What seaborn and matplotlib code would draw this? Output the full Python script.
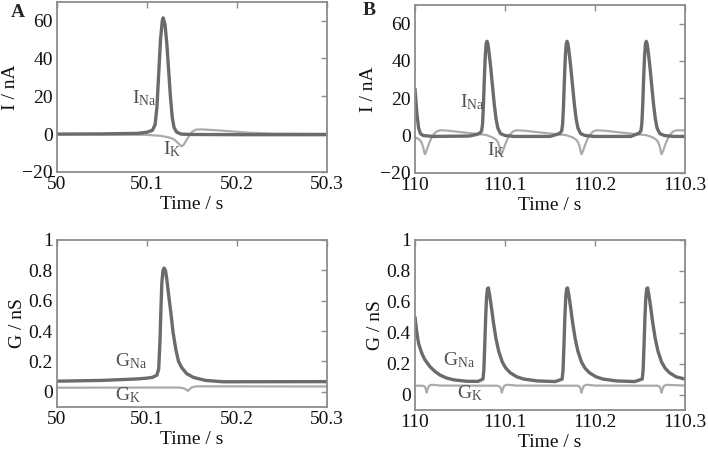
"""
Na/K currents and conductances during spiking -- panels A (single spike) and B (repetitive firing)
"""
import matplotlib
matplotlib.use("Agg")
import matplotlib.pyplot as plt
import seaborn as sns

# -- Data ----------------------------------------------------------------------
# Panel A, currents (nA)
A_T_INA = [50.000, 50.050, 50.090, 50.100, 50.106, 50.109, 50.111, 50.113, 50.115,
           50.117, 50.118, 50.120, 50.122, 50.124, 50.126, 50.128, 50.130, 50.133,
           50.138, 50.150, 50.200, 50.300]
A_INA = [0.0, 0.1, 0.4, 1.0, 2.0, 5.0, 14.0, 32.0, 50.0,
         60.0, 61.5, 58.0, 48.0, 34.0, 20.0, 9.0, 3.5, 1.0,
         0.0, -0.2, -0.3, -0.3]
A_T_IK = [50.000, 50.100, 50.115, 50.125, 50.130, 50.134, 50.137, 50.1385, 50.141,
          50.144, 50.147, 50.150, 50.154, 50.160, 50.175, 50.195, 50.215, 50.240, 50.300]
A_IK = [0.0, -0.4, -0.9, -1.8, -2.8, -4.5, -6.0, -6.5, -5.5,
        -3.0, -0.8, 1.2, 2.3, 2.5, 2.1, 1.4, 0.7, 0.3, 0.2]

# Panel A, conductances (nS)
A_T_GNA = [50.000, 50.050, 50.090, 50.100, 50.106, 50.111, 50.113, 50.1145, 50.1155,
           50.1165, 50.1178, 50.119, 50.1205, 50.122, 50.124, 50.1265, 50.129, 50.132,
           50.135, 50.1385, 50.144, 50.1515, 50.165, 50.185, 50.300]
A_GNA = [0.070, 0.075, 0.085, 0.090, 0.095, 0.11, 0.15, 0.35, 0.55,
         0.72, 0.80, 0.815, 0.80, 0.74, 0.64, 0.52, 0.39, 0.28,
         0.20, 0.16, 0.12, 0.095, 0.075, 0.066, 0.067]
A_T_GK = [50.000, 50.100, 50.135, 50.141, 50.144, 50.1455, 50.147, 50.150, 50.155, 50.300]
A_GK = [0.027, 0.028, 0.028, 0.023, 0.013, 0.006, 0.015, 0.030, 0.036, 0.035]

# Panel B, currents (nA)
B_T_INA = [110.000, 110.002, 110.004, 110.006, 110.009, 110.020, 110.060,
           110.068, 110.072, 110.074, 110.075, 110.076, 110.077, 110.078, 110.079,
           110.080, 110.081, 110.082, 110.084, 110.086, 110.088, 110.090, 110.092,
           110.095, 110.100, 110.110, 110.150,
           110.157, 110.161, 110.163, 110.164, 110.165, 110.166, 110.167, 110.168,
           110.169, 110.170, 110.171, 110.173, 110.175, 110.177, 110.179, 110.181,
           110.184, 110.189, 110.199, 110.240,
           110.245, 110.249, 110.251, 110.252, 110.253, 110.254, 110.255, 110.256,
           110.257, 110.258, 110.259, 110.261, 110.263, 110.265, 110.267, 110.269,
           110.272, 110.277, 110.287, 110.300]
B_INA = [25.0, 12.0, 4.0, 1.0, 0.0, -0.5, -0.3,
         0.5, 1.2, 2.5, 6.0, 16.0, 30.0, 42.0, 49.0,
         50.5, 49.0, 45.5, 37.0, 27.0, 17.0, 9.0, 4.0,
         1.0, 0.0, -0.5, -0.5,
         0.5, 1.2, 2.5, 6.0, 16.0, 30.0, 42.0, 49.0,
         50.5, 49.0, 45.5, 37.0, 27.0, 17.0, 9.0, 4.0,
         1.0, 0.0, -0.5, -0.5,
         0.5, 1.2, 2.5, 6.0, 16.0, 30.0, 42.0, 49.0,
         50.5, 49.0, 45.5, 37.0, 27.0, 17.0, 9.0, 4.0,
         1.0, 0.0, -0.5, -0.5]
B_T_IK = [110.000, 110.005, 110.007, 110.009, 110.010, 110.011, 110.0125, 110.015,
          110.018, 110.021, 110.024, 110.028, 110.036, 110.051, 110.066,
          110.079, 110.086, 110.090, 110.092, 110.094, 110.095, 110.096, 110.0975,
          110.100, 110.103, 110.106, 110.109, 110.113, 110.121, 110.136, 110.151,
          110.168, 110.175, 110.179, 110.181, 110.183, 110.184, 110.185, 110.1865,
          110.189, 110.192, 110.195, 110.198, 110.202, 110.210, 110.225, 110.240,
          110.257, 110.264, 110.268, 110.270, 110.272, 110.273, 110.274, 110.2755,
          110.278, 110.281, 110.284, 110.287, 110.291, 110.300]
B_IK = [-0.9, -2.2, -3.5, -6.0, -8.5, -10.0, -8.5, -5.0,
        -1.5, 0.8, 2.2, 2.8, 2.6, 1.8, 1.0,
        0.3, -1.0, -2.2, -3.5, -6.0, -8.5, -10.0, -8.5,
        -5.0, -1.5, 0.8, 2.2, 2.8, 2.6, 1.8, 1.0,
        0.2, -1.0, -2.2, -3.5, -6.0, -8.5, -10.0, -8.5,
        -5.0, -1.5, 0.8, 2.2, 2.8, 2.6, 1.8, 1.0,
        0.2, -1.0, -2.2, -3.5, -6.0, -8.5, -10.0, -8.5,
        -5.0, -1.5, 0.8, 2.2, 2.8, 2.7]

# Panel B, conductances (nS)
B_T_GNA = [110.000, 110.002, 110.004, 110.0056, 110.008, 110.011, 110.0167, 110.022,
           110.028, 110.035, 110.043, 110.057, 110.070,
           110.0755, 110.0765, 110.0775, 110.0785, 110.0795, 110.0805, 110.0815,
           110.083, 110.085, 110.087, 110.090, 110.093, 110.097, 110.101, 110.106,
           110.113, 110.121, 110.136, 110.156,
           110.1635, 110.1645, 110.1655, 110.1665, 110.1675, 110.1685, 110.1695,
           110.171, 110.173, 110.175, 110.178, 110.181, 110.185, 110.189, 110.194,
           110.201, 110.209, 110.224, 110.244,
           110.2525, 110.2535, 110.2545, 110.2555, 110.2565, 110.2575, 110.2585,
           110.260, 110.262, 110.264, 110.267, 110.270, 110.274, 110.278, 110.283,
           110.290, 110.300]
B_GNA = [0.50, 0.40, 0.33, 0.30, 0.26, 0.225, 0.18, 0.15,
         0.125, 0.107, 0.095, 0.086, 0.085,
         0.10, 0.16, 0.32, 0.50, 0.63, 0.685, 0.69,
         0.64, 0.56, 0.47, 0.36, 0.28, 0.21, 0.17, 0.14,
         0.115, 0.10, 0.088, 0.084,
         0.10, 0.16, 0.32, 0.50, 0.63, 0.685, 0.69,
         0.64, 0.56, 0.47, 0.36, 0.28, 0.21, 0.17, 0.14,
         0.115, 0.10, 0.088, 0.084,
         0.10, 0.16, 0.32, 0.50, 0.63, 0.685, 0.69,
         0.64, 0.56, 0.47, 0.36, 0.28, 0.21, 0.17, 0.14,
         0.115, 0.10]
B_T_GK = [110.000, 110.009, 110.011, 110.012, 110.013, 110.014, 110.0155, 110.018, 110.022,
          110.028, 110.092, 110.0945, 110.0955, 110.0965, 110.0975, 110.099, 110.1015,
          110.1055, 110.112, 110.181, 110.183, 110.184, 110.185, 110.186, 110.1875,
          110.190, 110.194, 110.200, 110.270, 110.272, 110.273, 110.274, 110.275,
          110.2765, 110.279, 110.283, 110.300]
B_GK = [0.057, 0.057, 0.050, 0.035, 0.012, 0.035, 0.055, 0.063, 0.062,
        0.058, 0.057, 0.050, 0.035, 0.012, 0.035, 0.055, 0.063,
        0.062, 0.058, 0.057, 0.050, 0.035, 0.012, 0.035, 0.055,
        0.063, 0.062, 0.058, 0.057, 0.050, 0.035, 0.012, 0.035,
        0.055, 0.063, 0.062, 0.058]

# Axes ticks / labels
I_YTICKS = [-20, 0, 20, 40, 60]
I_YTICKLABELS = ["\u221220", "0", "20", "40", "60"]
G_YTICKS = [0, 0.2, 0.4, 0.6, 0.8, 1]
G_YTICKLABELS = ["0", "0.2", "0.4", "0.6", "0.8", "1"]
A_XTICKS = [50.0, 50.1, 50.2, 50.3]
A_XTICKLABELS = ["50", "50.1", "50.2", "50.3"]
B_XTICKS = [110.0, 110.1, 110.2, 110.3]
B_XTICKLABELS = ["110", "110.1", "110.2", "110.3"]

# -- Style ---------------------------------------------------------------------
sns.set_theme(style="white")
plt.rcParams["font.family"] = ["Liberation Serif", "DejaVu Serif"]
plt.rcParams["mathtext.fontset"] = "custom"
plt.rcParams["mathtext.rm"] = "Liberation Serif"

COLOR_NA = "#6b6b6b"
COLOR_K = "#ababab"
FRAME = "#8c8c8c"
LW_NA = 2.4
LW_K = 1.6
TEXT_KW = dict(fontsize=14, color="#505050", ha="left", va="center")


def style_axes(ax, xticks, xticklabels, yticks, yticklabels, ylim, ylabel):
    ax.set_xlim(xticks[0], xticks[-1])
    ax.set_ylim(*ylim)
    ax.set_xticks(xticks)
    ax.set_xticklabels(xticklabels)
    ax.set_yticks(yticks)
    ax.set_yticklabels(yticklabels)
    ax.tick_params(direction="in", length=4, width=1, color=FRAME,
                   top=True, right=True, labelsize=14, labelcolor="#111111")
    ax.tick_params(axis="x", pad=3)
    ax.tick_params(axis="y", pad=3)
    for sp in ax.spines.values():
        sp.set_color(FRAME)
        sp.set_linewidth(1.3)
    ax.set_xlabel("Time / s", fontsize=14, labelpad=2, color="#111111")
    ax.set_ylabel(ylabel, fontsize=14, labelpad=2, color="#111111")
    ax.grid(False)


fig = plt.figure(figsize=(7.08, 4.5), dpi=100, facecolor="white")
ax_ai = fig.add_axes([0.0805, 0.618, 0.3814, 0.378])
ax_bi = fig.add_axes([0.5862, 0.616, 0.3813, 0.373])
ax_ag = fig.add_axes([0.0805, 0.0956, 0.3814, 0.3711])
ax_bg = fig.add_axes([0.5862, 0.0889, 0.3813, 0.3778])

# Panel A currents
sns.lineplot(x=A_T_IK, y=A_IK, ax=ax_ai, color=COLOR_K, linewidth=LW_K)
sns.lineplot(x=A_T_INA, y=A_INA, ax=ax_ai, color=COLOR_NA, linewidth=LW_NA)
style_axes(ax_ai, A_XTICKS, A_XTICKLABELS, I_YTICKS, I_YTICKLABELS,
           (-20, 70), "I / nA")
ax_ai.text(50.083, 19, r"$\mathregular{I_{Na}}$", **TEXT_KW)
ax_ai.text(50.118, -8, r"$\mathregular{I_{K}}$", **TEXT_KW)

# Panel B currents
sns.lineplot(x=B_T_IK, y=B_IK, ax=ax_bi, color=COLOR_K, linewidth=LW_K)
sns.lineplot(x=B_T_INA, y=B_INA, ax=ax_bi, color=COLOR_NA, linewidth=LW_NA)
style_axes(ax_bi, B_XTICKS, B_XTICKLABELS, I_YTICKS, I_YTICKLABELS,
           (-20, 70), "I / nA")
ax_bi.text(110.050, 18, r"$\mathregular{I_{Na}}$", **TEXT_KW)
ax_bi.text(110.080, -8, r"$\mathregular{I_{K}}$", **TEXT_KW)

# Panel A conductances
sns.lineplot(x=A_T_GK, y=A_GK, ax=ax_ag, color=COLOR_K, linewidth=LW_K)
sns.lineplot(x=A_T_GNA, y=A_GNA, ax=ax_ag, color=COLOR_NA, linewidth=LW_NA)
style_axes(ax_ag, A_XTICKS, A_XTICKLABELS, G_YTICKS, G_YTICKLABELS,
           (-0.1, 1.0), "G / nS")
ax_ag.text(50.064, 0.205, r"$\mathregular{G_{Na}}$", **TEXT_KW)
ax_ag.text(50.064, -0.025, r"$\mathregular{G_{K}}$", **TEXT_KW)

# Panel B conductances
sns.lineplot(x=B_T_GK, y=B_GK, ax=ax_bg, color=COLOR_K, linewidth=LW_K)
sns.lineplot(x=B_T_GNA, y=B_GNA, ax=ax_bg, color=COLOR_NA, linewidth=LW_NA)
style_axes(ax_bg, B_XTICKS, B_XTICKLABELS, G_YTICKS, G_YTICKLABELS,
           (-0.1, 1.0), "G / nS")
ax_bg.text(110.031, 0.224, r"$\mathregular{G_{Na}}$", **TEXT_KW)
ax_bg.text(110.047, 0.01, r"$\mathregular{G_{K}}$", **TEXT_KW)

# Panel letters
fig.text(0.025, 0.973, "A", fontsize=14, fontweight="bold", ha="center", va="center")
fig.text(0.521, 0.976, "B", fontsize=14, fontweight="bold", ha="center", va="center")

fig.savefig("out.png", dpi=100, facecolor="white")
